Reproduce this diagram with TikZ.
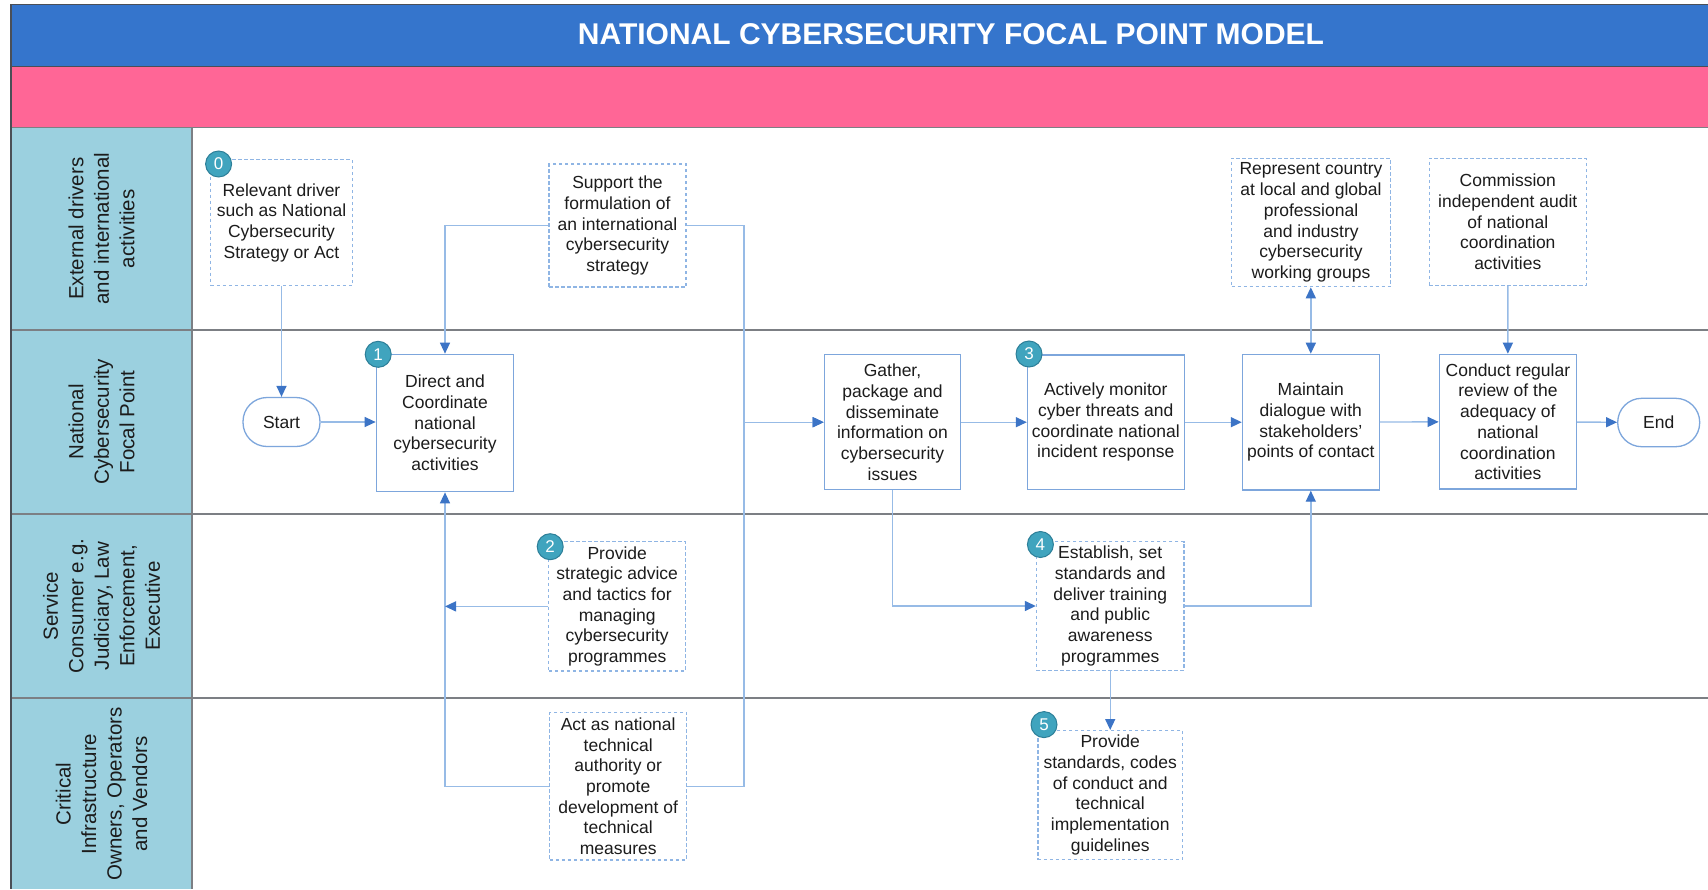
\documentclass[tikz,border=0pt]{standalone}
\usepackage{fontspec}
\setmainfont{Liberation Sans}
\usepackage{xcolor}
\usetikzlibrary{arrows.meta, positioning}
\definecolor{titleblue}{HTML}{3575CC}
\definecolor{pinkbar}{HTML}{FF6696}
\definecolor{lanefill}{HTML}{9BD0DF}
\definecolor{frameline}{HTML}{4A4F57}
\definecolor{laneline}{HTML}{7C7F84}
\definecolor{boxline}{HTML}{7DA6DC}
\definecolor{dashline}{HTML}{8FB5E4}
\definecolor{linkline}{HTML}{97BBE6}
\definecolor{tipblue}{HTML}{3C74C6}
\definecolor{badgefill}{HTML}{40A4BE}
\definecolor{badgeline}{HTML}{2D7F98}
\definecolor{inktext}{HTML}{1C1C1C}
\tikzset{SwimLane/.style = {% own set for the lane chart
     base/.style = {rectangle, align=center, inner sep=2pt, fill=white, text=inktext,
                    font=\fontsize{17.5}{20.7}\selectfont},
  process/.style = {base, draw=boxline, line width=1.3pt},
     task/.style = {base, draw=dashline, line width=1.2pt, dash pattern=on 3.5pt off 2.5pt},
startstop/.style = {base, draw=boxline, line width=1.3pt, rounded corners=24pt},
    badge/.style = {circle, fill=badgefill, draw=badgeline, line width=1pt,
                    minimum size=26pt, inner sep=0pt, text=white,
                    font=\fontsize{17}{17}\selectfont},
 lanetext/.style = {rotate=90, align=center, text=inktext,
                    font=\fontsize{20.5}{25.5}\selectfont},
    arrow/.style = {line width=1.4pt, draw=linkline,
                    -{Triangle[length=11pt, width=10pt, color=tipblue]}},
  biarrow/.style = {line width=1.4pt, draw=linkline,
                    {Triangle[length=11pt, width=10pt, color=tipblue]}-{Triangle[length=11pt, width=10pt, color=tipblue]}}}
        }

\begin{document}
\begin{tikzpicture}[SwimLane, x=1pt, y=-1pt]
\useasboundingbox (0,0) rectangle (1708,889);

% lanes
\fill[white] (0,0) rectangle (1708,889);
\fill[lanefill] (11,127.4) rectangle (192,889);
\fill[titleblue] (11,4.4) rectangle (1708,66.4);
\fill[pinkbar] (11,66.4) rectangle (1708,127.4);
\foreach \y in {127.4,330,514,698}
  \draw[laneline, line width=1.5pt] (11,\y) -- (1708,\y);
\draw[laneline, line width=1.2pt] (192,127.4) -- (192,889);
\draw[frameline, line width=1.3pt] (11,66.4) -- (1708,66.4);
\draw[frameline, line width=1.6pt] (1708,4.4) -- (11,4.4) -- (11,889);

\node (title) at (951,34) [text=white, font=\fontsize{30}{36}\bfseries\selectfont]
  {NATIONAL CYBERSECURITY FOCAL POINT MODEL};
\node (lane1) at (101.5,228.7) [lanetext] {External drivers\\and international\\activities};
\node (lane2) at (101.5,422)   [lanetext] {National\\Cybersecurity\\Focal Point};
\node (lane3) at (101.5,606)   [lanetext] {Service\\Consumer e.g.\\Judiciary, Law\\Enforcement,\\Executive};
\node (lane4) at (101.5,794)   [lanetext] {Critical\\Infrastructure\\Owners, Operators\\and Vendors};

% nodes
\node (drv)   at (281.5,222.6) [task, minimum width=141.5pt, minimum height=126pt]
  {Relevant driver\\such as National\\Cybersecurity\\Strategy or Act};
\node (sup)   at (617.5,225.5) [task, minimum width=137pt, minimum height=123pt]
  {Support the\\formulation of\\an international\\cybersecurity\\strategy};
\node (rep)   at (1311,222.5)  [task, minimum width=159pt, minimum height=128.4pt]
  {Represent country\\at local and global\\professional\\and industry\\cybersecurity\\working groups};
\node (aud)   at (1507.8,221.8) [task, minimum width=156.7pt, minimum height=127pt]
  {Commission\\independent audit\\of national\\coordination\\activities};
\node (start) at (281.5,422)   [startstop, minimum width=77pt, minimum height=49pt] {Start};
\node (coord) at (445,423)     [process, minimum width=137.4pt, minimum height=137.4pt]
  {Direct and\\Coordinate\\national\\cybersecurity\\activities};
\node (gath)  at (892.5,422.2) [process, minimum width=136.4pt, minimum height=135pt]
  {Gather,\\package and\\disseminate\\information on\\cybersecurity\\issues};
\node (mon)   at (1105.8,422.2) [process, minimum width=156.7pt, minimum height=134.3pt]
  {Actively monitor\\cyber threats and\\coordinate national\\incident response};
\node (dial)  at (1310.8,422.2) [process, minimum width=136.8pt, minimum height=135.7pt]
  {Maintain\\dialogue with\\stakeholders’\\points of contact};
\node (rev)   at (1507.9,421.7) [process, minimum width=137.2pt, minimum height=134.7pt]
  {Conduct regular\\review of the\\adequacy of\\national\\coordination\\activities};
\node (end)   at (1658.7,422.5) [startstop, minimum width=82pt, minimum height=48.4pt] {End};
\node (advice) at (617.2,606.4) [task, minimum width=136.8pt, minimum height=129.3pt]
  {Provide\\strategic advice\\and tactics for\\managing\\cybersecurity\\programmes};
\node (train) at (1110.2,606)  [task, minimum width=147.6pt, minimum height=128.7pt]
  {Establish, set\\standards and\\deliver training\\and public\\awareness\\programmes};
\node (tech)  at (618.2,786.2) [task, minimum width=136.8pt, minimum height=147.7pt]
  {Act as national\\technical\\authority or\\promote\\development of\\technical\\measures};
\node (codes) at (1110.2,795.1) [task, minimum width=144.6pt, minimum height=129pt]
  {Provide\\standards, codes\\of conduct and\\technical\\implementation\\guidelines};
\coordinate (hub) at (744,422.2);

% connectors
\draw[arrow] (drv) -- (start);
\draw[arrow] (start) -- (start -| coord.west);
\draw[arrow] (sup.west) -| (coord.north);
\draw[arrow] (sup.east) -| (hub) -- (gath.west);
\draw[arrow] (tech.east) -| (hub) -- (gath.west);
\draw[arrow] (tech.west) -| (coord.south);
\draw[arrow] (advice.west) -- (advice.west -| coord.south);
\draw[arrow] (gath) -- (mon);
\draw[arrow] (gath.south) |- (train.west);
\draw[arrow] (mon) -- (dial);
\draw[arrow] (train.east) -| (dial.south);
\draw[biarrow] (dial.north) -- (dial.north |- rep.south);
\draw[arrow] (dial) -- (rev);
\draw[arrow] (aud) -- (rev);
\draw[arrow] (rev) -- (end);
\draw[arrow] (train) -- (codes);

% badges
\node (b0) at (218.6,164)   [badge] {0};
\node (b1) at (378.2,354.3) [badge] {1};
\node (b2) at (550.2,546.7) [badge] {2};
\node (b3) at (1029,354)    [badge] {3};
\node (b4) at (1040.4,544.5) [badge] {4};
\node (b5) at (1044,724.6)  [badge] {5};

\end{tikzpicture}
\end{document}
